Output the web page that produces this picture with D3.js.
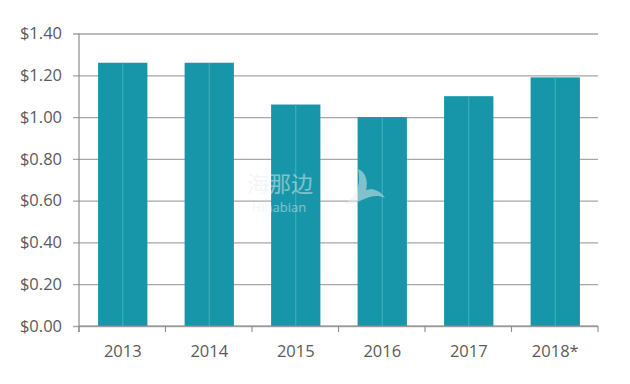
<!DOCTYPE html>
<html><head><meta charset="utf-8">
<script src="https://cdn.jsdelivr.net/npm/d3@7"></script>
<style>html,body{margin:0;padding:0;background:#fff}svg{display:block}</style>
</head><body><div id="c"></div>
<script>
const categories = ["2013","2014","2015","2016","2017","2018*"];
const values = [1.26,1.26,1.06,1.00,1.10,1.19];
const yTicks = [0,0.2,0.4,0.6,0.8,1.0,1.2,1.4];
const W=630,H=384,m={l:79,r:32,t:33.5,b:58};
const svg=d3.select("#c").append("svg").attr("width",W).attr("height",H);
const x=d3.scaleBand().domain(categories).range([m.l+0.5,W-m.r+0.5]).paddingInner(0.43).paddingOuter(0.215);
const y=d3.scaleLinear().domain([0,1.4]).range([H-m.b,m.t]);
const font="'Open Sans',sans-serif";
const textColor="#5a5a5a";
const grid=svg.append("g").attr("transform",`translate(${m.l},0)`)
 .call(d3.axisLeft(y).tickValues(yTicks).tickSize(0).tickFormat(d=>"$"+d3.format(".2f")(d)).tickPadding(17));
grid.select(".domain").remove();
grid.selectAll("text").attr("font-family",font).attr("font-size",16.5).attr("fill",textColor);
grid.selectAll("line").attr("x1",-6).attr("x2",W-m.l-m.r).attr("stroke","#a8a6a8").attr("stroke-width",1.3);
svg.append("line").attr("x1",m.l).attr("x2",m.l).attr("y1",y(1.4)).attr("y2",y(0)+6).attr("stroke","#8c8c8c").attr("stroke-width",1.2);
svg.selectAll("rect.bar").data(values).join("rect").attr("class","bar")
 .attr("x",(d,i)=>x(categories[i])).attr("width",x.bandwidth())
 .attr("y",d=>y(d)).attr("height",d=>y(0)-y(d)).attr("fill","#1896a9");
svg.selectAll("line.mid").data(values).join("line").attr("class","mid")
 .attr("x1",(d,i)=>x(categories[i])+x.bandwidth()/2).attr("x2",(d,i)=>x(categories[i])+x.bandwidth()/2)
 .attr("y1",d=>y(d)).attr("y2",y(0)).attr("stroke","#45afbe").attr("stroke-width",1);
const step=(W-m.l-m.r)/categories.length;
const xa=svg.append("g").attr("transform",`translate(0,${y(0)})`)
 .call(d3.axisBottom(x).tickSize(0).tickPadding(19));
xa.select(".domain").remove();
xa.selectAll("text").attr("font-family",font).attr("font-size",16.5).attr("fill",textColor);
svg.append("line").attr("x1",m.l).attr("x2",W-m.r).attr("y1",y(0)).attr("y2",y(0)).attr("stroke","#8c8c8c").attr("stroke-width",1.2);
svg.selectAll("line.tk").data(d3.range(categories.length+1)).join("line").attr("class","tk")
 .attr("x1",i=>m.l+i*step).attr("x2",i=>m.l+i*step).attr("y1",y(0)).attr("y2",y(0)+6).attr("stroke","#8c8c8c").attr("stroke-width",1.1);
const wm=svg.append("g").attr("fill","#e6eef0").attr("opacity",0.5).attr("text-anchor","middle");
wm.append("text").attr("x",280).attr("y",192).attr("font-family","'Noto Sans CJK SC'").attr("font-size",22).text("海那边");
wm.append("text").attr("x",279).attr("y",212).attr("font-family",font).attr("font-size",13).text("Hinabian");
wm.append("path").attr("d","M358 169C367 172 368 184 366 190C372 188 380 190 385 198C377 194 369 197 362 200C358 202 352 204 345 203C354 198 362 188 358 169Z");
</script></body></html>
